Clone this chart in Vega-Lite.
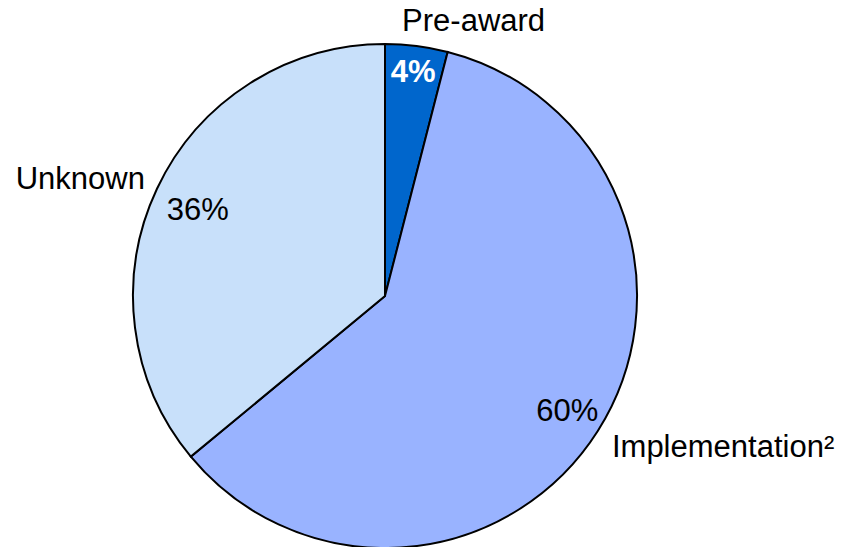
{
  "$schema": "https://vega.github.io/schema/vega-lite/v6.json",
  "width": 770,
  "height": 500,
  "autosize": {"type": "none"},
  "padding": {"left": 0, "top": 46, "right": 75, "bottom": 1},
  "background": "white",
  "config": {"view": {"stroke": null}, "text": {"font": "Liberation Sans", "fontSize": 31}},
  "data": {"values": [
    {"cat": "Pre-award", "name": "Pre-award", "pct": 4, "label": "4%", "rank": 1},
    {"cat": "Implementation", "name": "Implementation²", "pct": 60, "label": "60%", "rank": 2},
    {"cat": "Unknown", "name": "Unknown", "pct": 36, "label": "36%", "rank": 3}
  ]},
  "encoding": {
    "theta": {"field": "pct", "type": "quantitative", "stack": true},
    "order": {"field": "rank", "type": "quantitative"}
  },
  "layer": [
    {
      "mark": {"type": "arc", "radius": 252, "stroke": "black", "strokeWidth": 2},
      "encoding": {
        "color": {"field": "cat", "type": "nominal",
          "scale": {"domain": ["Pre-award", "Implementation", "Unknown"], "range": ["#0066CC", "#99B3FF", "#C8E0FA"]},
          "legend": null}
      }
    },
    {
      "mark": {"type": "text", "radius": 276, "align": "center", "baseline": "middle", "dx": 54, "color": "black"},
      "encoding": {"text": {"condition": {"test": "datum.cat === 'Pre-award'", "field": "name"}, "value": ""}}
    },
    {
      "mark": {"type": "text", "radius": 283, "align": "left", "baseline": "middle", "dx": -12, "color": "black"},
      "encoding": {"text": {"condition": {"test": "datum.cat === 'Implementation'", "field": "name"}, "value": ""}}
    },
    {
      "mark": {"type": "text", "radius": 272, "align": "right", "baseline": "middle", "dx": 6, "color": "black"},
      "encoding": {"text": {"condition": {"test": "datum.cat === 'Unknown'", "field": "name"}, "value": ""}}
    },
    {
      "mark": {"type": "text", "radius": 225, "align": "center", "baseline": "middle", "color": "white", "fontWeight": "bold"},
      "encoding": {"text": {"condition": {"test": "datum.cat === 'Pre-award'", "field": "label"}, "value": ""}}
    },
    {
      "mark": {"type": "text", "radius": 216, "align": "center", "baseline": "middle", "color": "black"},
      "encoding": {"text": {"condition": {"test": "datum.cat === 'Implementation'", "field": "label"}, "value": ""}}
    },
    {
      "mark": {"type": "text", "radius": 207, "align": "center", "baseline": "middle", "dy": 3, "color": "black"},
      "encoding": {"text": {"condition": {"test": "datum.cat === 'Unknown'", "field": "label"}, "value": ""}}
    }
  ]
}
